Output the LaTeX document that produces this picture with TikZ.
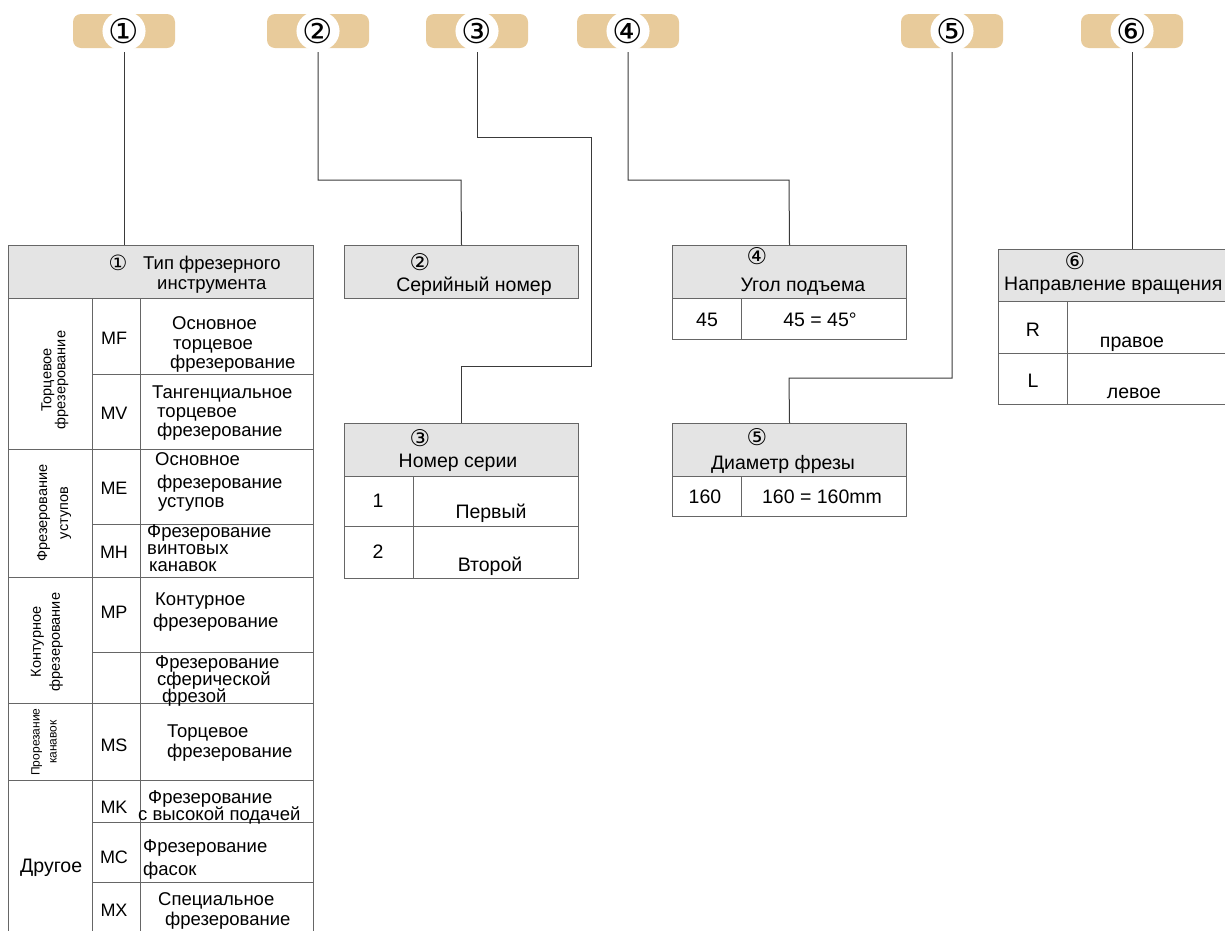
\documentclass[tikz,border=0pt]{standalone}
\usepackage{fontspec}
\setmainfont{Liberation Sans}
\newfontfamily\circfont{DejaVu Sans}
\usetikzlibrary{positioning,shapes.geometric}
\definecolor{badgetan}{HTML}{E8CB9B}
\definecolor{headgray}{HTML}{E4E4E4}
\definecolor{tline}{HTML}{666666}
\definecolor{wline}{HTML}{3A3A3A}
\newcommand{\fsz}[2]{\fontsize{#1}{#2}\selectfont}

\begin{document}
\begin{tikzpicture}[x=1pt, y=-1pt,
    badge/.style={fill=badgetan, rounded corners=8pt, minimum width=102pt,
      minimum height=34pt, inner sep=0pt},
    disc/.style={ellipse, fill=white, minimum width=42pt, minimum height=40pt,
      inner sep=0pt, font=\circfont\fsz{34}{34}},
    cell/.style={draw=tline, line width=1pt, anchor=north west, inner sep=0pt},
    head/.style={cell, fill=headgray},
    wire/.style={draw=wline, line width=1pt, shorten <=4pt},
    txt/.style={anchor=base west, inner sep=0pt, font=\fsz{18.5}{20}},
    ctxt/.style={anchor=base, inner sep=0pt, font=\fsz{19.5}{22}},
    num/.style={inner sep=0pt, font=\circfont\fsz{23}{23}},
    code/.style={inner sep=0pt, font=\fsz{18}{18}},
    grp/.style={rotate=90, align=center, inner sep=0pt}]
  \useasboundingbox (0,0) rectangle (1225,930);

  % badges on top
  \foreach \n/\xc/\d in {1/124/①, 2/318/②, 3/477/③, 4/628/④, 5/952/⑤, 6/1132/⑥}{%
    \node[badge] (b\n) at (\xc,31) {};%
    \node[disc] (d\n) at (b\n) {\d};%
  }

  % table 1: tool type
  \node[head, minimum width=305, minimum height=53] (t1h) at (8,245) {};%
  \node[num, font=\circfont\fsz{21}{21}] (n1) at (118,263) {①};%
  \node[txt] (h1a) at (143,269) {Тип фрезерного};%
  \node[txt] (h1b) at (157,289) {инструмента};%
  \foreach \g/\top/\h in {a/298/151, b/449/128, c/577/126, d/703/77, e/780/160}
    \node[cell, minimum width=84, minimum height=\h] (g\g) at (8,\top) {};
  \foreach \r/\top/\h/\cy/\c in {1/298/76/338/MF, 2/374/75/413/MV, 3/449/75/488/ME,
      4/524/53/552/MH, 5/577/75/612/MP, 6/652/51/677/{}, 7/703/77/745/MS,
      8/780/42/807/MK, 9/822/60/857/MC, 10/882/60/910/MX}{%
    \node[cell, minimum width=48, minimum height=\h] (k\r) at (92,\top) {};%
    \node[cell, minimum width=173, minimum height=\h] (e\r) at (140,\top) {};%
    \node[code] (c\r) at (114,\cy) {\c};%
  }
  % group labels
  \node[grp, font=\fsz{14.5}{14}] (ga) at (55,380) {Торцевое\\фрезерование};%
  \node[grp, font=\fsz{14.5}{21}] (gb) at (54,513) {Фрезерование\\уступов};%
  \node[grp, font=\fsz{14.5}{19}] (gc) at (47,642) {Контурное\\фрезерование};%
  \node[grp, font=\fsz{12}{17}] (gd) at (44,742) {Прорезание\\канавок};%
  \node[txt, font=\fsz{19.5}{22}] (ge) at (20,872) {Другое};%
  % descriptions
  \node[txt] (e1a) at (172,329) {Основное};%
  \node[txt] (e1b) at (173,349) {торцевое};%
  \node[txt] (e1c) at (170,368) {фрезерование};%
  \node[txt] (e2a) at (152,398) {Тангенциальное};%
  \node[txt] (e2b) at (157,417) {торцевое};%
  \node[txt] (e2c) at (157,436) {фрезерование};%
  \node[txt] (e3a) at (155,465) {Основное};%
  \node[txt] (e3b) at (157,488) {фрезерование};%
  \node[txt] (e3c) at (158,507) {уступов};%
  \node[txt] (e4a) at (147,537) {Фрезерование};%
  \node[txt] (e4b) at (147,554) {винтовых};%
  \node[txt] (e4c) at (149,571) {канавок};%
  \node[txt] (e5a) at (155,605) {Контурное};%
  \node[txt] (e5b) at (153,627) {фрезерование};%
  \node[txt] (e6a) at (155,668) {Фрезерование};%
  \node[txt] (e6b) at (157,685) {сферической};%
  \node[txt] (e6c) at (162,702) {фрезой};%
  \node[txt] (e7a) at (167,737) {Торцевое};%
  \node[txt] (e7b) at (167,757) {фрезерование};%
  \node[txt] (e8a) at (148,803) {Фрезерование};%
  \node[txt] (e8b) at (138,820) {с высокой подачей};%
  \node[txt] (e9a) at (143,852) {Фрезерование};%
  \node[txt] (e9b) at (143,875) {фасок};%
  \node[txt] (e10a) at (158,905) {Специальное};%
  \node[txt] (e10b) at (165,925) {фрезерование};%

  % table 2: serial number
  \node[head, minimum width=234, minimum height=53] (t2h) at (344,245) {};%
  \node[num] (n2) at (420,262) {②};%
  \node[ctxt] (h2) at (474,291) {Серийный номер};%

  % table 3: series number
  \node[head, minimum width=234, minimum height=53] (t3h) at (344,423) {};%
  \node[num] (n3) at (420,438) {③};%
  \node[ctxt] (h3) at (458,467) {Номер серии};%
  \foreach \r/\top/\h in {a/476/50, b/526/52}{%
    \node[cell, minimum width=69, minimum height=\h] (t3k\r) at (344,\top) {};%
    \node[cell, minimum width=165, minimum height=\h] (t3v\r) at (413,\top) {};%
  }
  \node[ctxt] (s1) at (378,507) {1};%
  \node[ctxt] (s1v) at (491,518) {Первый};%
  \node[ctxt] (s2) at (378,558) {2};%
  \node[ctxt] (s2v) at (490,571) {Второй};%

  % table 4: lead angle
  \node[head, minimum width=234, minimum height=53] (t4h) at (672,245) {};%
  \node[num] (n4) at (757,256) {④};%
  \node[ctxt] (h4) at (803,291) {Угол подъема};%
  \node[cell, minimum width=69, minimum height=41] (t4k) at (672,298) {};%
  \node[cell, minimum width=165, minimum height=41] (t4v) at (741,298) {};%
  \node[ctxt] (a1) at (707,326) {45};%
  \node[ctxt] (a1v) at (820,326) {45 = 45°};%

  % table 5: cutter diameter
  \node[head, minimum width=234, minimum height=53] (t5h) at (672,423) {};%
  \node[num] (n5) at (757,437) {⑤};%
  \node[ctxt] (h5) at (783,469) {Диаметр фрезы};%
  \node[cell, minimum width=69, minimum height=40] (t5k) at (672,476) {};%
  \node[cell, minimum width=165, minimum height=40] (t5v) at (741,476) {};%
  \node[ctxt] (m1) at (705,503) {160};%
  \node[ctxt] (m1v) at (822,503) {160 = 160mm};%

  % table 6: rotation
  \node[head, minimum width=250, minimum height=52] (t6h) at (998,249) {};%
  \node[num] (n6) at (1075,261) {⑥};%
  \node[txt, font=\fsz{19.5}{22}] (h6) at (1004,290) {Направление вращения};%
  \foreach \r/\top/\h in {a/301/52, b/353/51}{%
    \node[cell, minimum width=69, minimum height=\h] (t6k\r) at (998,\top) {};%
    \node[cell, minimum width=181, minimum height=\h] (t6v\r) at (1067,\top) {};%
  }
  \node[ctxt] (r1) at (1033,336) {R};%
  \node[ctxt] (r1v) at (1132,347) {правое};%
  \node[ctxt] (r2) at (1033,387) {L};%
  \node[ctxt] (r2v) at (1134,398) {левое};%

  % connectors
  \coordinate (j2) at (461,180);%
  \coordinate (j3a) at (591,137);%
  \coordinate (j3b) at (591,366);%
  \coordinate (j4) at (789,180);%
  \coordinate (j5) at (789,378);%
  \draw[wire] (b1.south) -- (b1.south |- t1h.north);%
  \draw[wire] (b2.south) |- (j2) -- (t2h.north);%
  \draw[wire] (b3.south) |- (j3a) -- (j3b) -| (t3h.north);%
  \draw[wire] (b4.south) |- (j4) -- (t4h.north);%
  \draw[wire] (b5.south) |- (j5) -- (t5h.north);%
  \draw[wire] (b6.south) -- (b6.south |- t6h.north);%
\end{tikzpicture}
\end{document}
